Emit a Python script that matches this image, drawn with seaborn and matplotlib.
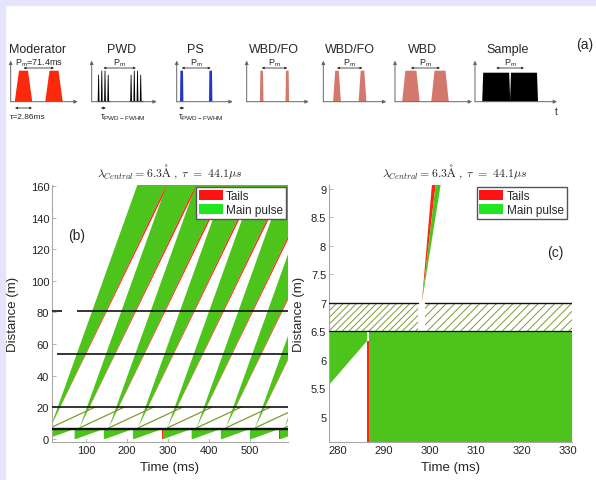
#!/usr/bin/env python3
"""Chopper pulse schematic (a), time-distance diagram (b) and its zoom near the PS chopper (c)."""

import matplotlib
matplotlib.use("Agg")
import matplotlib.pyplot as plt
import seaborn as sns
from matplotlib.patches import Patch, Rectangle

# %% data
PERIOD_MS = 71.4
PULSES = [0, 1, 2, 3, 4, 5, 6, 7, 8]

# main pulse: opens at the PS chopper, then edges with slopes in ms per metre
BAND_TIP_MS = 12.7
BAND_TIP_M = 7.0
BAND_SLOPE_FAST = 1.384
BAND_SLOPE_SLOW = 1.845
TAIL_SLOPE_SLOW = 1.875
SLOW_SLOPE = 8.3          # slow neutrons stopped at the 20 m chopper

# moderator fan below the PS chopper
MOD_EDGE_OFFSET_MS = 4.3
MOD_EDGE_SPEED = 0.0933   # metre per ms, slowest edge
MOD_TAIL_MS = [0.8, 1.3]
PS_LOW_M = 6.5

CHOPPER_M = [6.5, 7.0, 20.0, 54.0, 81.0, 81.0]
CHOPPER_FROM_MS = [0, 0, 0, 29, 0, 78]
CHOPPER_TO_MS = [600, 600, 600, 600, 41, 600]

# zoom (c)
ZOOM_TIP_MS = 298.3
ZOOM_TAIL_SLOPES = [1.06, 1.45]
ZOOM_MAIN_SLOPES = [1.45, 1.98]
ZOOM_GAP_MS = [297.5, 299.0]

# schematic (a): pulse centres / widths / heights relative to each small axis
SCHEM_NAMES = ["Moderator", "PWD", "PS", "WBD/FO", "WBD/FO", "WBD", "Sample"]
SCHEM_COLORS = ["#fb2a0c", "#000000", "#2238c4", "#d4776c", "#d4776c", "#d4776c", "#000000"]
SCHEM_CENTERS = [[12.8, 43.3], [11.7, 44.2], [5.0, 34.0], [15.0, 40.6],
                 [13.7, 39.2], [15.9, 45.0], [21.2, 49.0]]
SCHEM_BASE_W = [17.5, 13.5, 3.4, 3.6, 7.8, 17.5, 28.0]
SCHEM_TOP_W = [9.0, 9.0, 2.6, 2.6, 3.6, 11.0, 26.0]
SCHEM_HEIGHT = [31, 31, 31, 31, 31, 31, 29]
PWD_SPIKES = [-4.8, -1.6, 1.6, 4.8]

GREEN = "#4dc41b"
RED = "#ff2414"
LAVENDER = "#e4e4fa"
HATCH = "#7f9a36"

sns.set_theme(style="white")
plt.rcParams["font.family"] = ["Liberation Sans", "DejaVu Sans"]
plt.rcParams["mathtext.fontset"] = "cm"
plt.rcParams["hatch.linewidth"] = 0.7

W, H = 596, 481
fig = plt.figure(figsize=(W / 100, H / 100), dpi=100)
fig.patch.set_facecolor("white")
fig.add_artist(Rectangle((0, 1 - 6 / H), 1, 6 / H, transform=fig.transFigure, color=LAVENDER, zorder=0))
fig.add_artist(Rectangle((0, 0), 5 / W, 1, transform=fig.transFigure, color=LAVENDER, zorder=0))

# %% (a) pulse schematics, one overlay axes in pixel-like units
ax_a = fig.add_axes([0, 1 - 125 / H, 1, 95 / H])
ax_a.set_xlim(0, W)
ax_a.set_ylim(-22.3, 72.7)
ax_a.axis("off")

x0s = [10.7, 91.7, 176.7, 246.7, 323.3, 395.0, 475.0]
lens = [67, 65, 56, 62, 63, 77, 82]
title_x = [38, 121.5, 195, 274, 350, 422.5, 508]
arrow_kw = dict(arrowstyle="-|>", color="#666666", lw=0.7, mutation_scale=5, shrinkA=0, shrinkB=0)
pm_kw = dict(arrowstyle="<|-|>", color="#333333", lw=0.6, mutation_scale=3, shrinkA=0, shrinkB=0)


def envelope(off, base_w, top_w, h):
    a = abs(off)
    if a <= top_w / 2:
        return h
    return max(0.0, h * (base_w / 2 - a) / ((base_w - top_w) / 2))


for i, name in enumerate(SCHEM_NAMES):
    x0 = x0s[i]
    ax_a.annotate("", xy=(x0, 41), xytext=(x0, 0), arrowprops=arrow_kw)
    ax_a.annotate("", xy=(x0 + lens[i], 0), xytext=(x0, 0), arrowprops=arrow_kw)
    ax_a.text(title_x[i], 52.7, name, ha="center", va="center", fontsize=9)
    bw, tw, h = SCHEM_BASE_W[i], SCHEM_TOP_W[i], SCHEM_HEIGHT[i]
    for c in SCHEM_CENTERS[i]:
        cx = x0 + c
        if name == "PWD":
            for off in PWD_SPIKES:
                sh = envelope(off, bw, tw, h)
                ax_a.fill([cx + off - 0.9, cx + off - 0.4, cx + off + 0.4, cx + off + 0.9],
                          [0, sh, sh, 0], color="black", lw=0)
            ax_a.fill([cx - bw / 2, cx + bw / 2], [0.6, 0.6], color="black", lw=0.8)
        else:
            ax_a.fill([cx - bw / 2, cx - tw / 2, cx + tw / 2, cx + bw / 2], [0, h, h, 0],
                      color=SCHEM_COLORS[i], lw=0)
    c1, c2 = SCHEM_CENTERS[i]
    ax_a.annotate("", xy=(x0 + c1, 33.7), xytext=(x0 + c2, 33.7), arrowprops=pm_kw)
    if name == "Moderator":
        ax_a.text(x0 + (c1 + c2) / 2, 39.5, r"$\mathregular{P_m}$=71.4ms", ha="center", va="center", fontsize=6.5)
    else:
        ax_a.text(x0 + (c1 + c2) / 2, 39.5, r"$\mathregular{P_m}$", ha="center", va="center", fontsize=6.5)

# width markers under the first three schematics
ax_a.annotate("", xy=(x0s[0] + 4.3, -6.3), xytext=(x0s[0] + 21.3, -6.3), arrowprops=pm_kw)
ax_a.text(x0s[0] - 0.5, -15.3, "τ=2.86ms", ha="left", va="center", fontsize=6)
for i in (1, 2):
    ax_a.annotate("", xy=(x0s[i] + SCHEM_CENTERS[i][0] - 2.5, -6.3),
                  xytext=(x0s[i] + SCHEM_CENTERS[i][0] + 2.5, -6.3), arrowprops=pm_kw)
    ax_a.text(x0s[i] + SCHEM_CENTERS[i][0] - 3.5, -15.3, r"$\mathregular{\tau_{PWD-FWHM}}$",
              ha="left", va="center", fontsize=6.5)
ax_a.text(556.7, -9, "t", ha="center", va="center", fontsize=7)
ax_a.text(585, 57.7, "(a)", ha="center", va="center", fontsize=10)


# %% (b) and (c) shared drawing
def draw_moderator_fan(ax):
    for k in [-1] + PULSES:
        t0 = k * PERIOD_MS
        t_next = (k + 1) * PERIOD_MS
        edge0 = t0 + MOD_EDGE_OFFSET_MS
        t_end = t_next + MOD_TAIL_MS[0]
        d_end = (t_end - edge0) * MOD_EDGE_SPEED
        ax.fill([t0 + MOD_TAIL_MS[1], t_end, t_end, t0 + MOD_TAIL_MS[1]],
                [0, 0, PS_LOW_M, PS_LOW_M], color=GREEN, lw=0, zorder=1)
        ax.fill([edge0, t_end, t_end], [0, d_end, 0], color="white", lw=0, zorder=1)
        ax.fill([t_next + MOD_TAIL_MS[0], t_next + MOD_TAIL_MS[1], t_next + MOD_TAIL_MS[1], t_next + MOD_TAIL_MS[0]],
                [0, 0, d_end, d_end], color=RED, lw=0, zorder=1)


def style_axes(ax):
    sns.despine(ax=ax)
    for side in ("left", "bottom"):
        ax.spines[side].set_color("#a8a8a8")
        ax.spines[side].set_linewidth(0.8)
    ax.tick_params(bottom=True, left=True, direction="in", length=3, width=0.6,
                   color="#a8a8a8", labelsize=8, pad=2, labelcolor="#222222")
    ax.set_facecolor("white")


legend_handles = [Patch(facecolor="#ff1212", edgecolor="none", label="Tails"),
                  Patch(facecolor="#22e622", edgecolor="none", label="Main pulse")]
title = r"$\lambda_{Central} = 6.3\mathrm{\AA}\ ,\ \tau\ =\ 44.1\mu s$"

# %% (b)
ax_b = fig.add_axes([52 / W, 1 - 443 / H, 236 / W, 257 / H])
x_lo, x_hi, y_lo, y_hi = 17.0, 593.0, -1.9, 160.6
draw_moderator_fan(ax_b)
for k in PULSES:
    tip = BAND_TIP_MS + k * PERIOD_MS
    rise = y_hi - BAND_TIP_M
    ax_b.fill([tip, tip + rise * BAND_SLOPE_FAST, tip + rise * BAND_SLOPE_SLOW],
              [BAND_TIP_M, y_hi, y_hi], color=GREEN, lw=0, zorder=1)
    ax_b.fill([tip, tip + rise * BAND_SLOPE_SLOW, tip + rise * TAIL_SLOPE_SLOW],
              [BAND_TIP_M, y_hi, y_hi], color=RED, lw=0, zorder=1)
    ax_b.plot([tip, tip + (20 - BAND_TIP_M) * SLOW_SLOPE], [BAND_TIP_M, 20],
              color=HATCH, lw=0.9, zorder=2)
for d, t_from, t_to in zip(CHOPPER_M, CHOPPER_FROM_MS, CHOPPER_TO_MS):
    ax_b.plot([t_from, t_to], [d, d], color="#111111", lw=1.2 if d > 10 else 1.0, zorder=3,
              solid_capstyle="butt")
ax_b.set_xlim(x_lo, x_hi)
ax_b.set_ylim(y_lo, y_hi)
ax_b.set_xticks([100, 200, 300, 400, 500])
ax_b.set_yticks([0, 20, 40, 60, 80, 100, 120, 140, 160])
style_axes(ax_b)
ax_b.set_xlabel("Time (ms)", fontsize=9.5)
ax_b.set_ylabel("Distance (m)", fontsize=9.5)
ax_b.xaxis.set_label_coords(0.5, -0.075)
ax_b.yaxis.set_label_coords(-0.14, 0.5)
ax_b.text(0.5, 1.054, title, transform=ax_b.transAxes, ha="center", va="center", fontsize=8.5)
ax_b.text(0.07, 0.805, "(b)", transform=ax_b.transAxes, ha="left", va="center", fontsize=10)
ax_b.legend(handles=legend_handles, loc="upper right", fontsize=8.5, frameon=True, fancybox=False,
            edgecolor="#555555", framealpha=1, borderaxespad=0.15, borderpad=0.25,
            handlelength=2.0, handleheight=1.0, labelspacing=0.15, handletextpad=0.3)

# %% (c)
ax_c = fig.add_axes([329 / W, 1 - 443 / H, 243 / W, 257 / H])
cx_lo, cx_hi, cy_lo, cy_hi = 278.1, 331.0, 4.56, 9.07
draw_moderator_fan(ax_c)
ax_c.fill_between([cx_lo, ZOOM_GAP_MS[0]], PS_LOW_M, 7.0, facecolor="none", edgecolor=HATCH,
                  hatch="/////", lw=0, zorder=1)
ax_c.fill_between([ZOOM_GAP_MS[1], cx_hi], PS_LOW_M, 7.0, facecolor="none", edgecolor=HATCH,
                  hatch="////", lw=0, zorder=1)
rise = cy_hi - 7.0
ax_c.fill([ZOOM_TIP_MS, ZOOM_TIP_MS + rise * ZOOM_TAIL_SLOPES[0], ZOOM_TIP_MS + rise * ZOOM_TAIL_SLOPES[1]],
          [7.0, cy_hi, cy_hi], color=RED, lw=0, zorder=2)
ax_c.fill([ZOOM_TIP_MS, ZOOM_TIP_MS + rise * ZOOM_MAIN_SLOPES[0], ZOOM_TIP_MS + rise * ZOOM_MAIN_SLOPES[1]],
          [7.0, cy_hi, cy_hi], color=GREEN, lw=0, zorder=2)
ax_c.plot([cx_lo, ZOOM_GAP_MS[0]], [7.0, 7.0], color="#111111", lw=1.0, zorder=3)
ax_c.plot([ZOOM_GAP_MS[1], cx_hi], [7.0, 7.0], color="#111111", lw=1.0, zorder=3)
ax_c.plot([cx_lo, cx_hi], [PS_LOW_M, PS_LOW_M], color="#111111", lw=0.9, zorder=3)
ax_c.set_xlim(cx_lo, cx_hi)
ax_c.set_ylim(cy_lo, cy_hi)
ax_c.set_xticks([280, 290, 300, 310, 320, 330])
ax_c.set_yticks([5, 5.5, 6, 6.5, 7, 7.5, 8, 8.5, 9])
ax_c.set_yticklabels(["5", "5.5", "6", "6.5", "7", "7.5", "8", "8.5", "9"])
style_axes(ax_c)
ax_c.set_xlabel("Time (ms)", fontsize=9.5)
ax_c.set_ylabel("Distance (m)", fontsize=9.5)
ax_c.xaxis.set_label_coords(0.5, -0.075)
ax_c.yaxis.set_label_coords(-0.10, 0.5)
ax_c.text(0.518, 1.054, title, transform=ax_c.transAxes, ha="center", va="center", fontsize=8.5)
ax_c.text(0.93, 0.74, "(c)", transform=ax_c.transAxes, ha="center", va="center", fontsize=10)
ax_c.legend(handles=legend_handles, loc="upper right", fontsize=8.5, frameon=True, fancybox=False,
            edgecolor="#555555", framealpha=1, borderaxespad=0.15, borderpad=0.25,
            handlelength=2.0, handleheight=1.0, labelspacing=0.15, handletextpad=0.3,
            bbox_to_anchor=(0.985, 1.0))

fig.savefig("out.png", dpi=100)
print("saved out.png")
